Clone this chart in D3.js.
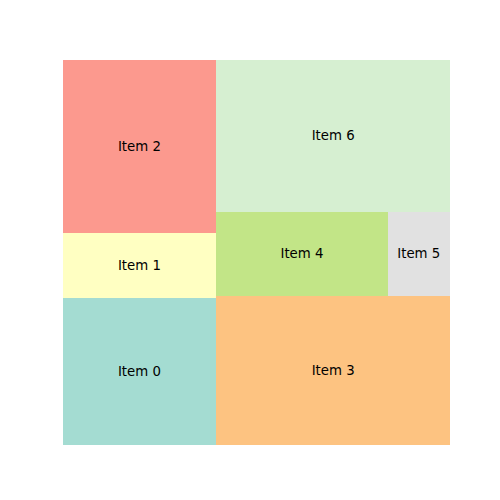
<!DOCTYPE html>
<html>
<head>
<meta charset="utf-8">
<script src="https://cdn.jsdelivr.net/npm/d3@7"></script>
<style>
  html, body { margin: 0; padding: 0; background: #ffffff; }
  svg { display: block; }
</style>
</head>
<body>
<svg id="chart" width="500" height="500"></svg>
<script>
// ---- data ----
const labels = ["Item 0", "Item 1", "Item 2", "Item 3", "Item 4", "Item 5", "Item 6"];
const values = [15.2, 6.7, 17.8, 23.4, 9.6, 3.5, 23.8];
const colors = ["#8dd3c7", "#ffffb3", "#fb8072", "#fdb462", "#b3de69", "#d9d9d9", "#ccebc5"];

// ---- squarify (same algorithm as python squarify) ----
function layoutRow(sizes, x, y, dx, dy) {
  const covered = d3.sum(sizes);
  const width = covered / dy;
  return sizes.map(s => { const r = {x: x, y: y, dx: width, dy: s / width}; y += s / width; return r; });
}
function layoutCol(sizes, x, y, dx, dy) {
  const covered = d3.sum(sizes);
  const height = covered / dx;
  return sizes.map(s => { const r = {x: x, y: y, dx: s / height, dy: height}; x += s / height; return r; });
}
function layout(sizes, x, y, dx, dy) {
  return dx >= dy ? layoutRow(sizes, x, y, dx, dy) : layoutCol(sizes, x, y, dx, dy);
}
function leftover(sizes, x, y, dx, dy) {
  const covered = d3.sum(sizes);
  if (dx >= dy) { const w = covered / dy; return [x + w, y, dx - w, dy]; }
  const h = covered / dx; return [x, y + h, dx, dy - h];
}
function worst(sizes, x, y, dx, dy) {
  return d3.max(layout(sizes, x, y, dx, dy), r => Math.max(r.dx / r.dy, r.dy / r.dx));
}
function squarify(sizes, x, y, dx, dy) {
  if (sizes.length === 0) return [];
  if (sizes.length === 1) return layout(sizes, x, y, dx, dy);
  let i = 1;
  while (i < sizes.length && worst(sizes.slice(0, i), x, y, dx, dy) >= worst(sizes.slice(0, i + 1), x, y, dx, dy)) i++;
  const cur = sizes.slice(0, i), rem = sizes.slice(i);
  const [lx, ly, ldx, ldy] = leftover(cur, x, y, dx, dy);
  return layout(cur, x, y, dx, dy).concat(squarify(rem, lx, ly, ldx, ldy));
}

const normX = 100, normY = 100;
const total = d3.sum(values);
const norm = values.map(v => v * normX * normY / total);
const rects = squarify(norm, 0, 0, normX, normY);

// ---- scales ----
const xScale = d3.scaleLinear().domain([0, normX]).range([62.5, 450]);
const yScale = d3.scaleLinear().domain([0, normY]).range([445, 60]);

const svg = d3.select("#chart");
const g = svg.append("g");

g.selectAll("rect.cell")
  .data(rects)
  .enter().append("rect")
  .attr("class", "cell")
  .attr("x", d => xScale(d.x))
  .attr("y", d => yScale(d.y + d.dy))
  .attr("width", d => xScale(d.x + d.dx) - xScale(d.x))
  .attr("height", d => yScale(d.y) - yScale(d.y + d.dy))
  .attr("fill", (d, i) => colors[i])
  .attr("fill-opacity", 0.8)
  .attr("shape-rendering", "crispEdges");

g.selectAll("text.lbl")
  .data(rects)
  .enter().append("text")
  .attr("class", "lbl")
  .attr("x", d => xScale(d.x + d.dx / 2))
  .attr("y", d => yScale(d.y + d.dy / 2))
  .attr("text-anchor", "middle")
  .attr("dominant-baseline", "central")
  .attr("font-family", "DejaVu Sans, sans-serif")
  .attr("font-size", "13.3px")
  .attr("fill", "#000")
  .text((d, i) => labels[i]);
</script>
</body>
</html>
